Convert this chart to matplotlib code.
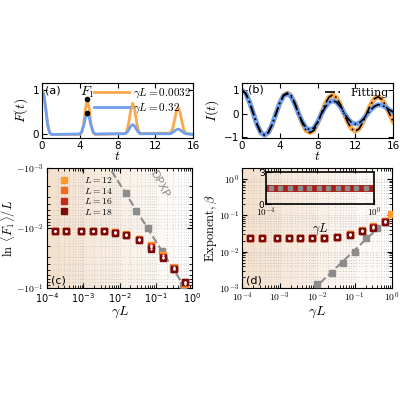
import numpy as np
import matplotlib.pyplot as plt
from matplotlib.colors import LinearSegmentedColormap
from matplotlib.ticker import FuncFormatter, NullFormatter

plt.rcParams['mathtext.fontset'] = 'cm'
plt.rcParams['font.size'] = 7.5

# (a) F(t)
t_a = [0, 0.2, 0.4, 0.6, 0.8, 1.0,
       4.0, 4.2, 4.4, 4.6, 4.8, 5.0, 5.2, 5.4, 5.6,
       8.8, 9.0, 9.2, 9.4, 9.6, 9.8, 10.0, 10.2, 10.4,
       13.6, 13.8, 14.0, 14.2, 14.4, 14.6, 14.8, 15.0, 15.2, 16.0]
F_small = [1.0, 0.9, 0.6, 0.25, 0.05, 0.0,
           0.0, 0.045, 0.22, 0.58, 0.8, 0.58, 0.22, 0.045, 0.0,
           0.02, 0.09, 0.29, 0.56, 0.7, 0.56, 0.29, 0.09, 0.02,
           0.03, 0.11, 0.29, 0.5, 0.6, 0.5, 0.29, 0.11, 0.03, 0.0]
F_large = [1.0, 0.88, 0.55, 0.2, 0.04, 0.0,
           0.01, 0.06, 0.19, 0.38, 0.47, 0.38, 0.19, 0.06, 0.01,
           0.015, 0.05, 0.11, 0.19, 0.22, 0.19, 0.11, 0.05, 0.015,
           0.015, 0.04, 0.07, 0.105, 0.12, 0.105, 0.07, 0.04, 0.015, 0.0]

# (b) I(t)
t_b = [0.4 * i for i in range(41)]
I_small = [1.00, 0.86, 0.49, 0.0, -0.48, -0.83, -0.93, -0.81, -0.47, 0.0,
           0.46, 0.79, 0.88, 0.77, 0.44, 0.0, -0.43, -0.74, -0.82, -0.73,
           -0.42, 0.0, 0.41, 0.70, 0.80, 0.68, 0.39, 0.0, -0.38, -0.66,
           -0.76, -0.65, -0.37, 0.0, 0.37, 0.63, 0.72, 0.61, 0.35, 0.0, -0.35]
I_large = [1.00, 0.86, 0.49, 0.0, -0.48, -0.82, -0.93, -0.80, -0.46, 0.0,
           0.45, 0.76, 0.85, 0.72, 0.40, -0.02, -0.37, -0.62, -0.70, -0.62,
           -0.36, -0.03, 0.27, 0.47, 0.55, 0.49, 0.30, 0.03, -0.22, -0.39,
           -0.45, -0.41, -0.26, -0.05, 0.15, 0.30, 0.38, 0.36, 0.27, 0.16, 0.06]

# (c), (d)
gL = [1.6e-4, 3.4e-4, 8.6e-4, 1.8e-3, 3.6e-3, 7.3e-3, 1.5e-2, 3.4e-2, 7.4e-2, 0.16, 0.31, 0.66]
Ls = [12, 14, 16, 18]
L_colors = ['#ff9a30', '#f06a20', '#c42a1e', '#7a0c0c']
lnF = {12: [0.0112, 0.0112, 0.0112, 0.0112, 0.0113, 0.0117, 0.0127, 0.015, 0.019, 0.028, 0.045, 0.085],
       14: [0.0112, 0.0112, 0.0112, 0.0112, 0.0113, 0.0118, 0.0129, 0.0153, 0.02, 0.03, 0.047, 0.082],
       16: [0.0112, 0.0112, 0.0112, 0.0112, 0.0114, 0.0119, 0.0131, 0.0157, 0.021, 0.031, 0.048, 0.08],
       18: [0.0112, 0.0112, 0.0112, 0.0112, 0.0114, 0.012, 0.0133, 0.0161, 0.022, 0.032, 0.049, 0.079]}
dpxp_x_c = [0.015, 0.028, 0.059, 0.15, 0.3, 0.58]
dpxp_y_c = [0.0026, 0.0052, 0.01, 0.024, 0.048, 0.09]

beta = {12: [0.023, 0.023, 0.023, 0.023, 0.023, 0.023, 0.024, 0.026, 0.03, 0.04, 0.05, 0.07],
        14: [0.023, 0.023, 0.023, 0.023, 0.023, 0.023, 0.024, 0.026, 0.03, 0.038, 0.048, 0.068],
        16: [0.023, 0.023, 0.023, 0.023, 0.023, 0.023, 0.024, 0.026, 0.029, 0.037, 0.047, 0.066],
        18: [0.023, 0.023, 0.023, 0.023, 0.023, 0.023, 0.024, 0.025, 0.029, 0.036, 0.046, 0.065]}
beta_end_x = 0.95
beta_end_y = 0.11
dpxp_x_d = [0.01, 0.025, 0.05, 0.1, 0.2, 0.4]
dpxp_y_d = [0.0013, 0.0026, 0.005, 0.01, 0.023, 0.045]
ratio_x = [1.5e-4, 3.4e-4, 8e-4, 1.8e-3, 4e-3, 9e-3, 2e-2, 4.6e-2, 0.1, 0.22, 0.5]
ratio_y = [1.5] * 11

orange = '#f9a94b'
blue = '#6f9ff0'
gray = '#8c8c8c'
bg_cmap = LinearSegmentedColormap.from_list('bg', ['#f3e0cc', '#ffffff'])


def backdrop(ax):
    grad = np.linspace(0, 1, 256).reshape(1, -1)
    ax.imshow(grad, extent=[0, 1, 0, 1], transform=ax.transAxes, aspect='auto',
              cmap=bg_cmap, zorder=0)
    ax.grid(True, which='both', color='#b5b5b5', ls=(0, (1, 3)), lw=0.5, zorder=1)


def neg_pow(v, pos):
    return r'$-10^{%d}$' % int(round(np.log10(v)))


def pow_lab(v, pos):
    return r'$10^{%d}$' % int(round(np.log10(v)))


fig = plt.figure(figsize=(4, 4), dpi=100)

# (a)
ax = fig.add_axes([0.105, 0.655, 0.378, 0.137])
ax.plot(t_a, F_small, color=orange, lw=2, label=r'$\gamma L = 0.0032$')
ax.plot(t_a, F_large, color=blue, lw=2, label=r'$\gamma L = 0.32$')
ax.plot([4.8, 4.8], [0.8, 0.47], 'o', color='k', ms=3)
ax.text(4.0, 0.86, r'$F_1$', fontsize=10)
ax.text(0.3, 0.92, '(a)', fontsize=8)
ax.set_xlim(0, 16)
ax.set_ylim(-0.08, 1.15)
ax.set_xticks([0, 4, 8, 12, 16])
ax.set_yticks([0, 1])
ax.set_xlabel(r'$t$', labelpad=-1, fontsize=10)
ax.set_ylabel(r'$F(t)$', fontsize=10, labelpad=2)
ax.legend(loc='upper right', frameon=False, handlelength=3.2, borderaxespad=0.1,
          labelspacing=0.1, handletextpad=0.3, fontsize=8, bbox_to_anchor=(1.02, 1.05))
ax.tick_params(direction='in', top=True, right=True, pad=2)

# (b)
ax = fig.add_axes([0.605, 0.655, 0.378, 0.137])
ax.plot(t_b, I_small, color=orange, lw=3.5)
ax.plot(t_b, I_large, color=blue, lw=3.5)
ax.plot(t_b, I_small, color='k', lw=1.2, ls=(0, (6, 2, 1, 2)), label='Fitting')
ax.plot(t_b, I_large, color='k', lw=1.2, ls=(0, (6, 2, 1, 2)))
ax.text(0.6, 0.9, '(b)', fontsize=8)
ax.set_xlim(0, 16)
ax.set_ylim(-1.05, 1.3)
ax.set_xticks([0, 4, 8, 12, 16])
ax.set_yticks([-1, 0, 1])
ax.set_xlabel(r'$t$', labelpad=-1, fontsize=10)
ax.set_ylabel(r'$I(t)$', fontsize=10, labelpad=2)
ax.legend(loc='upper right', frameon=False, handlelength=1.5, borderaxespad=0.0,
          prop={'family': 'serif', 'size': 8})
ax.tick_params(direction='in', top=True, right=True, pad=2)

# (c)
ax = fig.add_axes([0.118, 0.28, 0.362, 0.3])
backdrop(ax)
fit = np.polyfit(np.log10(dpxp_x_c), np.log10(dpxp_y_c), 1)
xl = np.array([6e-3, 0.7])
ax.plot(xl, 10 ** np.polyval(fit, np.log10(xl)), '--', color=gray, lw=1.5, zorder=2)
ax.plot(dpxp_x_c, dpxp_y_c, 's', color=gray, ms=4, zorder=3)
for L, c in zip(Ls, L_colors):
    ax.plot(gL, lnF[L], 's', color=c, ms=5, mec=c, zorder=3, label=r'$L = %d$' % L)
    ax.plot(gL, lnF[L], '.', color='white', ms=1.2, zorder=4)
ax.text(0.06, 0.0032, 'DPXP', rotation=-62, color=gray, fontsize=8)
ax.text(1.3e-4, 0.085, '(c)', fontsize=8)
ax.set_xscale('log')
ax.set_yscale('log')
ax.set_xlim(1e-4, 1)
ax.set_ylim(1e-3, 1e-1)
ax.invert_yaxis()
ax.yaxis.set_major_formatter(FuncFormatter(neg_pow))
ax.yaxis.set_minor_formatter(NullFormatter())
ax.set_xlabel(r'$\gamma L$', labelpad=0, fontsize=10)
ax.set_ylabel(r'$\ln\ \langle F_1\rangle /L$', fontsize=9, labelpad=-1)
ax.legend(loc='upper left', frameon=False, fontsize=7, handletextpad=1.5,
          labelspacing=0.05, bbox_to_anchor=(0.05, 0.98), handlelength=1, borderpad=0)
ax.tick_params(direction='in', top=True, right=True, which='both', pad=2, labelsize=7)

# (d)
ax = fig.add_axes([0.605, 0.28, 0.375, 0.3])
backdrop(ax)
fit = np.polyfit(np.log10(dpxp_x_d), np.log10(dpxp_y_d), 1)
xl = np.array([0.012, 0.45])
ax.plot(xl, 10 ** np.polyval(fit, np.log10(xl)), '--', color=gray, lw=1.5, zorder=2)
ax.plot(dpxp_x_d, dpxp_y_d, 's', color=gray, ms=4, zorder=3)
for L, c in zip(Ls, L_colors):
    ax.plot(gL, beta[L], 's', color=c, ms=5, mec=c, zorder=3)
    ax.plot(gL, beta[L], '.', color='white', ms=1.2, zorder=4)
ax.plot([beta_end_x], [beta_end_y], 's', color=L_colors[0], ms=5, zorder=3)
ax.text(1.3e-4, 1.3e-3, '(d)', fontsize=8)
ax.set_xscale('log')
ax.set_yscale('log')
ax.set_xlim(1e-4, 1)
ax.set_ylim(1e-3, 2.0)
ax.set_yticks([1e-3, 1e-2, 1e-1, 1])
ax.xaxis.set_major_formatter(FuncFormatter(pow_lab))
ax.yaxis.set_major_formatter(FuncFormatter(pow_lab))
ax.yaxis.set_minor_formatter(NullFormatter())
ax.set_xlabel(r'$\gamma L$', labelpad=0, fontsize=10)
ax.set_ylabel(r'$\mathrm{Exponent},\beta$', fontsize=9, labelpad=0)
ax.tick_params(direction='in', top=True, right=True, which='both', pad=2, labelsize=7)

ins = fig.add_axes([0.665, 0.49, 0.27, 0.08])
ins.set_facecolor('none')
ins.axhline(1.5, color='#a8201a', lw=5, zorder=2)
ins.plot(ratio_x, ratio_y, 's', color=gray, ms=3.5, zorder=3)
ins.set_xscale('log')
ins.set_xlim(1e-4, 1)
ins.set_ylim(0, 3)
ins.set_yticks([0, 3])
ins.set_xticks([1e-4, 1])
ins.xaxis.set_major_formatter(FuncFormatter(pow_lab))
ins.minorticks_off()
ins.tick_params(direction='in', pad=1, labelsize=6.5)
ins.text(0.5, -0.55, r'$\gamma L$', transform=ins.transAxes, ha='center', va='top', fontsize=9)
for s in ins.spines.values():
    s.set_linewidth(1.2)

fig.savefig('out.png', dpi=100)
